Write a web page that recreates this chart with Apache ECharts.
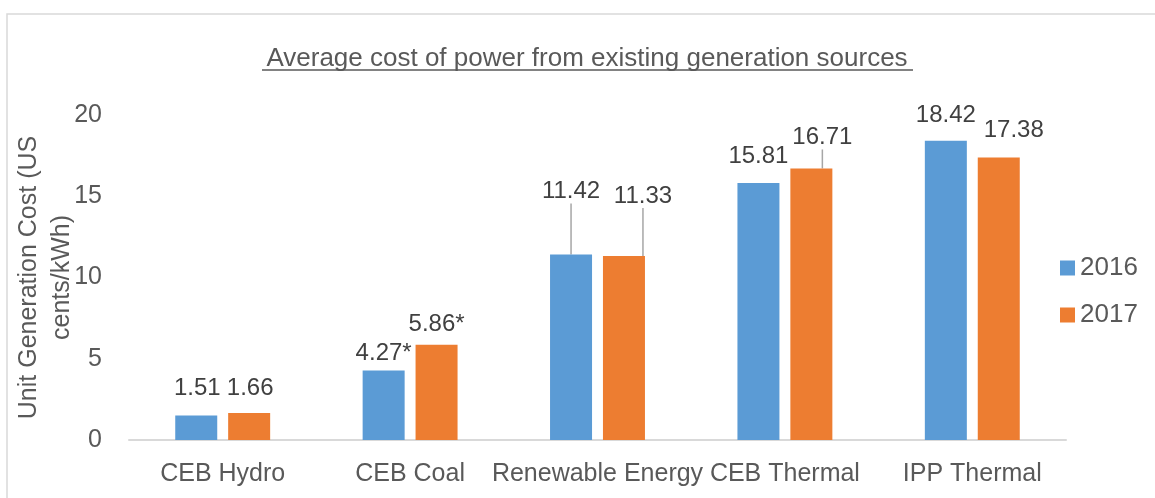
<!DOCTYPE html>
<html>
<head>
<meta charset="utf-8">
<title>Average cost of power</title>
<script src="https://cdn.jsdelivr.net/npm/echarts@6/dist/echarts.min.js"></script>
<style>
  html, body { margin: 0; padding: 0; background: #fff; }
  #chart { width: 1155px; height: 498px; }
</style>
</head>
<body>
<div id="chart"></div>
<script>
// data
var categories = ['CEB Hydro', 'CEB Coal', 'Renewable Energy', 'CEB Thermal', 'IPP Thermal'];
var cost2016 = [1.51, 4.27, 11.42, 15.81, 18.42];
var cost2017 = [1.66, 5.86, 11.33, 16.71, 17.38];
var notes2016 = ['', '*', '', '', ''];
var notes2017 = ['', '*', '', '', ''];
var yTicks = [0, 5, 10, 15, 20];

// label nudges (dx, dy) and which labels get a leader line
var shift2016 = [[1, -10], [0, 0], [0, -46], [0, -10], [0, -8]];
var shift2017 = [[1, -8], [0, -3], [19, -43], [11, -14], [15, -10]];
var leader2016 = [false, false, true, false, false];
var leader2017 = [false, false, true, true, false];

var textFont = 'Liberation Sans';
var grey = '#595959';

function makeData(values, notes, leaders) {
    return values.map(function (v, i) {
        return {
            value: v,
            note: notes[i],
            labelLine: { show: leaders[i] }
        };
    });
}

function makeSeries(name, color, values, notes, shifts, leaders) {
    return {
        name: name,
        type: 'bar',
        barWidth: 42,
        barGap: '26%',
        itemStyle: { color: color },
        label: {
            show: true,
            position: 'top',
            distance: 5,
            color: '#404040',
            fontFamily: textFont,
            fontSize: 24,
            formatter: function (p) {
                return p.value.toFixed(2) + (p.data.note || '');
            }
        },
        labelLine: {
            show: false,
            lineStyle: { color: '#a6a6a6', width: 1.5 }
        },
        labelLayout: function (p) {
            var s = shifts[p.dataIndex];
            return { dx: s[0], dy: s[1] };
        },
        data: makeData(values, notes, leaders)
    };
}

var chart = echarts.init(document.getElementById('chart'));

var option = {
    animation: false,
    backgroundColor: '#ffffff',
    color: ['#5b9bd5', '#ed7d31'],
    title: {
        text: 'Average cost of power from existing generation sources',
        left: 587,
        top: 46,
        padding: 0,
        textAlign: 'center',
        textStyle: {
            color: grey,
            fontFamily: textFont,
            fontWeight: 'normal',
            fontSize: 26
        }
    },
    legend: {
        orient: 'vertical',
        left: 1055,
        top: 250,
        itemWidth: 15,
        itemHeight: 15,
        itemGap: 21,
        icon: 'rect',
        textStyle: {
            color: grey,
            fontFamily: textFont,
            fontSize: 26
        },
        data: ['2016', '2017']
    },
    grid: {
        left: 129,
        right: 89,
        top: 115,
        bottom: 58,
        outerBoundsMode: 'none'
    },
    xAxis: {
        type: 'category',
        data: categories,
        axisTick: { show: false },
        axisLine: { lineStyle: { color: '#d9d9d9', width: 2 } },
        axisLabel: {
            interval: 0,
            margin: 22,
            color: grey,
            fontFamily: textFont,
            fontSize: 25
        }
    },
    yAxis: {
        type: 'value',
        min: yTicks[0],
        max: yTicks[yTicks.length - 1],
        interval: yTicks[1] - yTicks[0],
        name: 'Unit Generation Cost (US\ncents/kWh)',
        nameLocation: 'middle',
        nameRotate: 90,
        nameGap: 50,
        nameMoveOverlap: false,
        nameTextStyle: {
            color: grey,
            fontFamily: textFont,
            fontSize: 25,
            lineHeight: 33
        },
        axisLine: { show: false },
        axisTick: { show: false },
        splitLine: { show: false },
        axisLabel: {
            margin: 27,
            color: grey,
            fontFamily: textFont,
            fontSize: 25
        }
    },
    graphic: [
        {
            // chart frame
            type: 'rect',
            shape: { x: 7, y: 14, width: 1300, height: 700 },
            style: { fill: null, stroke: '#d9d9d9', lineWidth: 1.5 },
            silent: true,
            z: -10
        },
        {
            // title underline
            type: 'line',
            shape: { x1: 262, y1: 70, x2: 913, y2: 70 },
            style: { stroke: grey, lineWidth: 1.5 },
            silent: true
        }
    ],
    series: [
        makeSeries('2016', '#5b9bd5', cost2016, notes2016, shift2016, leader2016),
        makeSeries('2017', '#ed7d31', cost2017, notes2017, shift2017, leader2017)
    ]
};

chart.setOption(option);
</script>
</body>
</html>
